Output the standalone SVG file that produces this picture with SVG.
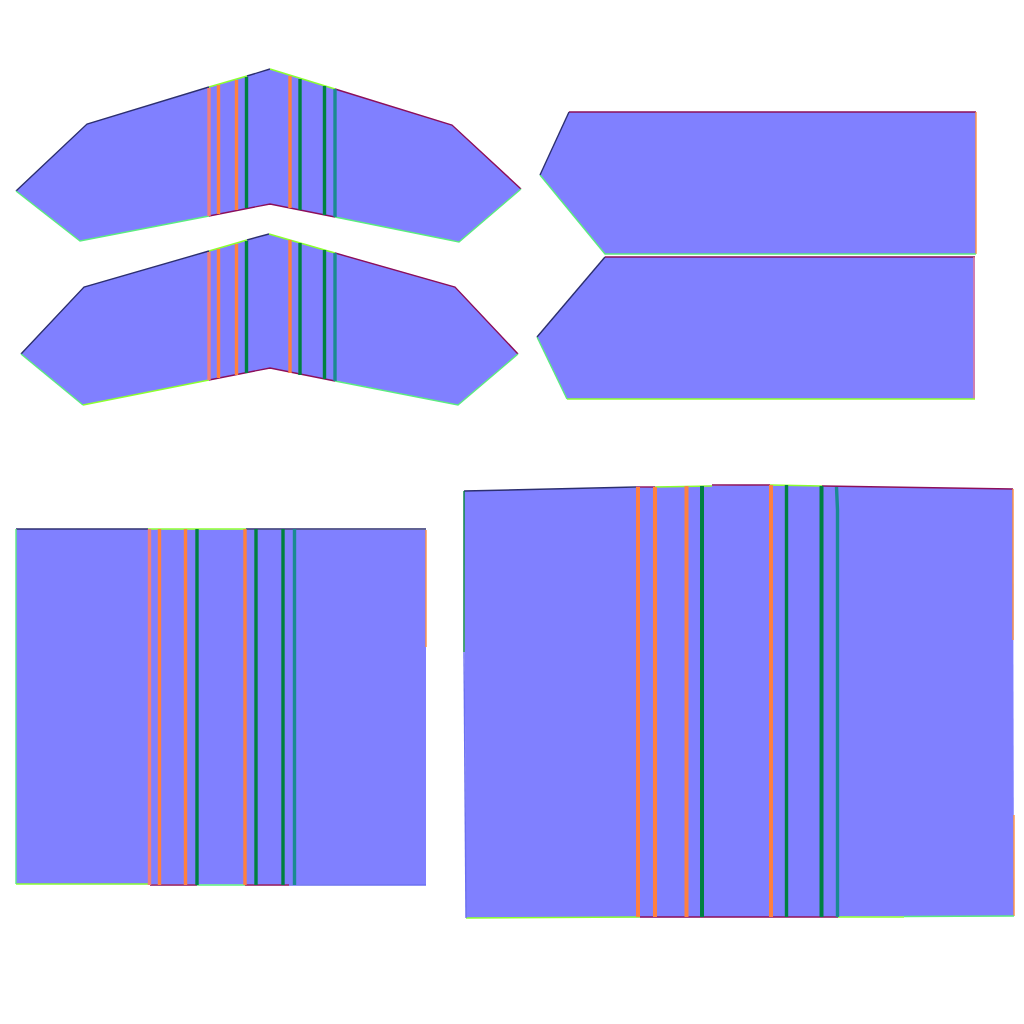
<svg xmlns="http://www.w3.org/2000/svg" width="1024" height="1024" viewBox="0 0 1024 1024">
<style>
.f{fill:#8080ff;stroke:none}
.e{fill:none;stroke-width:1.4;stroke-linecap:butt}
.tl{stroke:#2c2f70}.tr{stroke:#8c0f5a}.g{stroke:#5cec80}.lg{stroke:#8cff30}.b{stroke:#6a70f0}.o{stroke:#ff9040}.pk{stroke:#f08090}
.s{fill:none;stroke-width:3.4}
.p{stroke:#f08078}.r{stroke:#ff8040}.d{stroke:#008040}.t{stroke:#1a8a90}
.w{stroke-width:4}
</style>
<rect width="1024" height="1024" fill="#ffffff"/>

<g id="wing-top">
<polygon class="f" points="16,191 87,124 270,69 452,125 521,189 459,242 270,204 80,241"/>
<path class="e tl" d="M16,191L87,124L209,87"/><path class="e lg" d="M209,87L247,76"/><path class="e tl" d="M247,76L270,69"/>
<path class="e lg" d="M270,69L335,89"/><path class="e tr" d="M335,89L452,125L521,189"/>
<path class="e g" d="M16,191L80,241L209,216"/><path class="e tr" d="M209,216L270,204L335,217"/><path class="e g" d="M335,217L459,242L521,189"/>
<path class="s p" d="M209,88V216"/><path class="s r" d="M218.500,85V214"/><path class="s r" d="M236.500,80V210"/><path class="s d" d="M246.500,77V208"/>
<path class="s r" d="M290,76V208"/><path class="s d" d="M300,79V210"/><path class="s d" d="M324.500,86V215"/><path class="s t" d="M335,89V217"/>
</g>

<g id="wing-lower">
<polygon class="f" points="21,354 84,287 269,234 455,287 518,354 458,405 270,368 83,405"/>
<path class="e tl" d="M21,354L84,287L209,251"/><path class="e lg" d="M209,251L247,240"/><path class="e tl" d="M247,240L269,234"/>
<path class="e lg" d="M269,234L335,253"/><path class="e tr" d="M335,253L455,287L518,354"/>
<path class="e g" d="M21,354L83,405"/><path class="e lg" d="M83,405L209,380"/><path class="e tr" d="M209,380L270,368L335,381"/><path class="e g" d="M335,381L458,405L518,354"/>
<path class="s p" d="M209,252V380"/><path class="s r" d="M218.500,249V378"/><path class="s r" d="M236.500,244V375"/><path class="s d" d="M246.500,241V373"/>
<path class="s r" d="M290,240V373"/><path class="s d" d="M300,243V375"/><path class="s d" d="M324.500,250V379"/><path class="s t" d="M335,253V381"/>
</g>

<g id="panel-upper-right">
<polygon class="f" points="569,112 976,112 976,254 605,254 540,175"/>
<path class="e tr" d="M569,112H976"/><path class="e o" d="M976,112V254"/><path class="e g" d="M976,254H605L540,175"/><path class="e tl" d="M540,175L569,112"/>
</g>

<g id="panel-lower-right">
<polygon class="f" points="605,257 975,257 975,399 567,399 537,337"/>
<path class="e tr" d="M605,257H975"/><path class="e pk" d="M974,257V399"/><path class="e lg" d="M975,399H567"/><path class="e g" d="M567,399L537,337"/><path class="e tl" d="M537,337L605,257"/>
</g>

<g id="sheet-left">
<polygon class="f" points="16,529 426,530 426,885 16,884"/>
<path class="e tl" d="M16,529H148"/><path class="e lg" d="M148,529H246"/><path class="e tl" d="M246,529H426"/>
<path class="e o" d="M426,530V647"/>
<path class="e lg" d="M16,884H150"/><path class="e tr" d="M150,885H197"/><path class="e g" d="M197,885H245"/><path class="e tr" d="M245,885H289"/><path class="e b" d="M289,885H426"/>
<path class="e g" d="M16,529V884"/>
<path class="s p" d="M149.500,529V885"/><path class="s r" d="M159.500,529V885"/><path class="s r" d="M185.500,529V885"/><path class="s d" d="M197,529V885"/>
<path class="s r" d="M245,529V885"/><path class="s d" d="M256,529V885"/><path class="s d" d="M283,529V885"/><path class="s t" d="M294.500,529V885"/>
</g>

<g id="sheet-right">
<polygon class="f" points="464,491 745,485 1013,489 1014,916 466,918"/>
<path class="e tl" d="M464,491L636,487"/><path class="e tr" d="M636,487L655,487"/><path class="e lg" d="M655,487L712,486"/><path class="e tr" d="M712,485L770,485"/><path class="e lg" d="M770,485L822,486"/><path class="e tr" d="M822,486L1013,489"/>
<path class="e o" d="M1013,489V640"/><path class="e o" d="M1014,815V916"/>
<path class="e lg" d="M466,918L640,917"/><path class="e tr" d="M640,917H838"/><path class="e lg" d="M838,917H904"/><path class="e g" d="M904,916.500L1014,916"/>
<path class="e d" d="M464,491V652"/><path class="e b" d="M464,652L466,918"/>
<path class="s w r" d="M638,487V917"/><path class="s w r" d="M655,487V917"/><path class="s w r" d="M686.500,486V917"/><path class="s w d" d="M702,486V917"/>
<path class="s w r" d="M771,485V917"/><path class="s d" d="M786.500,485V917"/><path class="s w d" d="M821.500,486V917"/><path class="s t" d="M836.500,487L837.500,510V917"/>
</g>
</svg>
